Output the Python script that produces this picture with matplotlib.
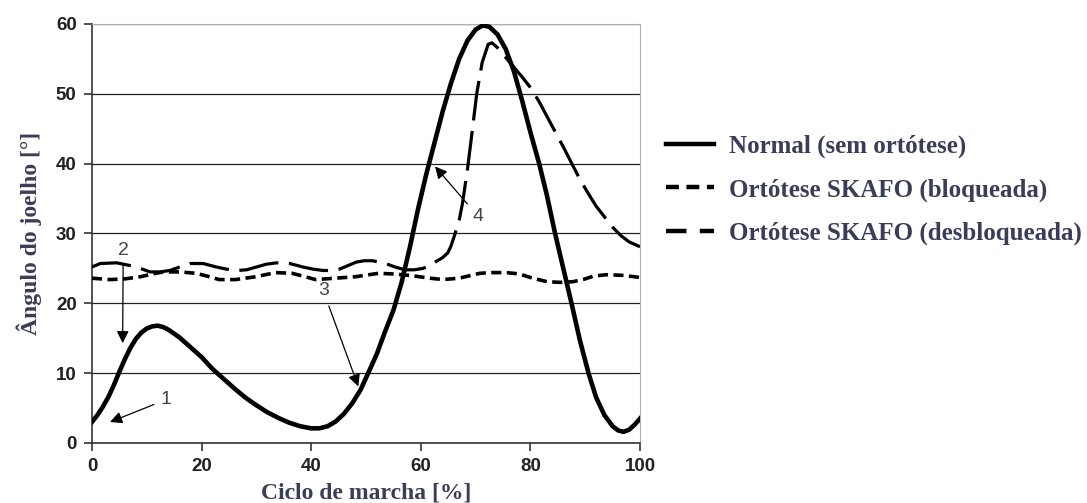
import numpy as np
import matplotlib.pyplot as plt
from matplotlib.lines import Line2D

# gait cycle (%) and knee angle (deg)
x_normal = [0, 1, 2, 3, 4, 5, 6, 7, 8, 9, 10, 11, 12, 13, 14, 16, 18, 20, 22, 24, 26, 28, 30, 32, 34,
            36, 38, 40, 41.5, 43, 44.5, 46, 47.5, 49, 50.4, 52, 53.5, 55, 56.5, 58, 59.5, 61, 62.5,
            64, 65.5, 67, 68.5, 70, 71.3, 72.5, 74, 75.5, 77, 78.5, 80, 81.6, 83, 84.5, 86, 87.5,
            89, 90.6, 92, 93.5, 95, 96, 97, 98, 99, 100]
y_normal = [3.0, 4.0, 5.2, 6.6, 8.3, 10.2, 12.0, 13.6, 14.9, 15.8, 16.4, 16.7, 16.8, 16.6, 16.2, 15.1,
            13.7, 12.3, 10.6, 9.2, 7.8, 6.5, 5.4, 4.4, 3.6, 2.9, 2.4, 2.1, 2.1, 2.4, 3.1, 4.2, 5.7,
            7.6, 10.0, 12.8, 16.0, 19.0, 23.0, 28.0, 33.5, 38.5, 43.0, 47.5, 51.5, 55.0, 57.6, 59.2,
            59.8, 59.6, 58.5, 56.4, 53.2, 49.0, 44.5, 40.0, 35.5, 30.0, 25.0, 20.0, 14.8, 10.0, 6.5,
            4.0, 2.4, 1.8, 1.6, 1.9, 2.6, 3.5]

x_locked = [0, 3.3, 6, 8.8, 11, 13, 16, 19, 21, 23.2, 26.2, 29.8, 33.5, 36.5, 38.5, 40.8, 44.4, 48,
            52.3, 55, 58, 61.7, 64, 67, 70.8, 73, 75.7, 78, 80, 83, 85.5, 87.8, 90, 91.5, 93.9, 97, 100]
y_locked = [23.6, 23.4, 23.5, 23.8, 24.2, 24.5, 24.5, 24.3, 23.9, 23.4, 23.4, 23.8, 24.4, 24.3, 23.9,
            23.4, 23.6, 23.8, 24.3, 24.2, 24.0, 23.6, 23.4, 23.6, 24.3, 24.4, 24.4, 24.2, 23.7, 23.1,
            23.0, 23.1, 23.5, 23.9, 24.1, 24.0, 23.7]

x_unlocked = [0, 1.5, 4.5, 7, 8.8, 10.6, 12.4, 14.2, 16, 17.9, 20.3, 22.7, 24.5, 26.4, 28.2, 30, 31.8,
              33.7, 36.1, 38.5, 40.3, 42.2, 43.7, 45.2, 46.7, 48.2, 49.7, 51.2, 53.6, 55.3, 57.1,
              58.8, 60.4, 61.6, 62.8, 63.9, 64.9, 65.5, 66.1, 67, 67.6, 68.5, 69.2, 70.2, 71.2, 72.3,
              73.0, 74, 75.5, 77, 78.5, 80, 81.5, 83, 84.5, 86, 87.5, 89, 90.5, 92, 93.5, 95, 96.5,
              98, 100]
y_unlocked = [25.2, 25.7, 25.8, 25.4, 25.0, 24.5, 24.5, 24.7, 25.2, 25.7, 25.7, 25.2, 24.9, 24.7,
              24.8, 25.2, 25.6, 25.8, 25.7, 25.2, 24.9, 24.7, 24.7, 24.9, 25.4, 25.9, 26.1, 26.1, 25.7,
              25.2, 24.8, 24.8, 25.0, 25.4, 26.0, 26.5, 27.2, 28.2, 29.6, 31.9, 34.3, 39.1, 43.5, 50.0,
              54.5, 57.1, 57.3, 56.6, 55.2, 53.8, 52.4, 50.9, 49.0, 46.8, 44.6, 42.4, 40.1, 37.8, 35.8,
              33.9, 32.4, 30.9, 29.7, 28.8, 28.1]

labels = ['Normal (sem ortótese)', 'Ortótese SKAFO (bloqueada)', 'Ortótese SKAFO (desbloqueada)']
txt_color = '#3a3d57'

fig = plt.figure(figsize=(10.87, 5.03), dpi=100)
ax = fig.add_axes([0.0846, 0.1193, 0.5042, 0.8330])

ax.plot(x_normal, y_normal, color='black', lw=3.3, solid_joinstyle='round', zorder=4)
ax.plot(x_locked, y_locked, color='black', lw=2.6, dashes=(2.8, 1.5), zorder=3)
ax.plot(x_unlocked, y_unlocked, color='black', lw=2.3, dashes=(12.5, 3.3), zorder=3)

ax.set_xlim(0, 100)
ax.set_ylim(0, 60)
ax.set_xticks(np.arange(0, 101, 20))
ax.set_yticks(np.arange(0, 61, 10))
ax.yaxis.grid(True, color='#222222', lw=0.9)
ax.set_axisbelow(True)
for s in ['top', 'right']:
    ax.spines[s].set_color('#b0b0b0')
for s in ['left', 'bottom']:
    ax.spines[s].set_color('#333333')
    ax.spines[s].set_linewidth(1.2)
ax.tick_params(direction='out', length=6, width=1.2, color='#333333', labelsize=13.5,
               labelcolor='#222222', pad=5)
for t in ax.get_xticklabels() + ax.get_yticklabels():
    t.set_fontweight('bold')
    t.set_family('Liberation Sans')

ax.set_xlabel('Ciclo de marcha [%]', fontsize=17, fontweight='bold', family='Liberation Serif',
              color=txt_color, labelpad=5)
ax.set_ylabel('Ângulo do joelho [°]', fontsize=17, fontweight='bold', family='Liberation Serif',
              color=txt_color, labelpad=10)

# numbered annotations
arrow = dict(arrowstyle='-|>', color='black', lw=0.9, mutation_scale=18, shrinkA=3, shrinkB=0)
ann = dict(fontsize=14, color='#444444', family='Liberation Sans', ha='center', va='center')
ax.annotate('1', xy=(3.3, 3.0), xytext=(13.5, 6.2), arrowprops=arrow, **ann)
ax.annotate('2', xy=(5.6, 14.3), xytext=(5.7, 27.6), arrowprops=arrow, **ann)
ax.annotate('3', xy=(48.6, 8.1), xytext=(42.2, 21.8), arrowprops=arrow, **ann)
ax.annotate('4', xy=(62.6, 39.6), xytext=(70.5, 32.4), arrowprops=arrow, **ann)

handles = [Line2D([], [], color='black', lw=3.2),
           Line2D([], [], color='black', lw=3.2, dashes=(2.9, 1.7)),
           Line2D([], [], color='black', lw=3.2, dashes=(4.6, 3.0))]
leg = fig.legend(handles, labels, loc='upper left', bbox_to_anchor=(0.6016, 0.757),
                 frameon=False, handlelength=1.9, handletextpad=0.62, labelspacing=0.8,
                 borderpad=0, prop={'family': 'Liberation Serif', 'weight': 'bold', 'size': 18})
for t in leg.get_texts():
    t.set_color(txt_color)

fig.savefig('out.png', dpi=100)
